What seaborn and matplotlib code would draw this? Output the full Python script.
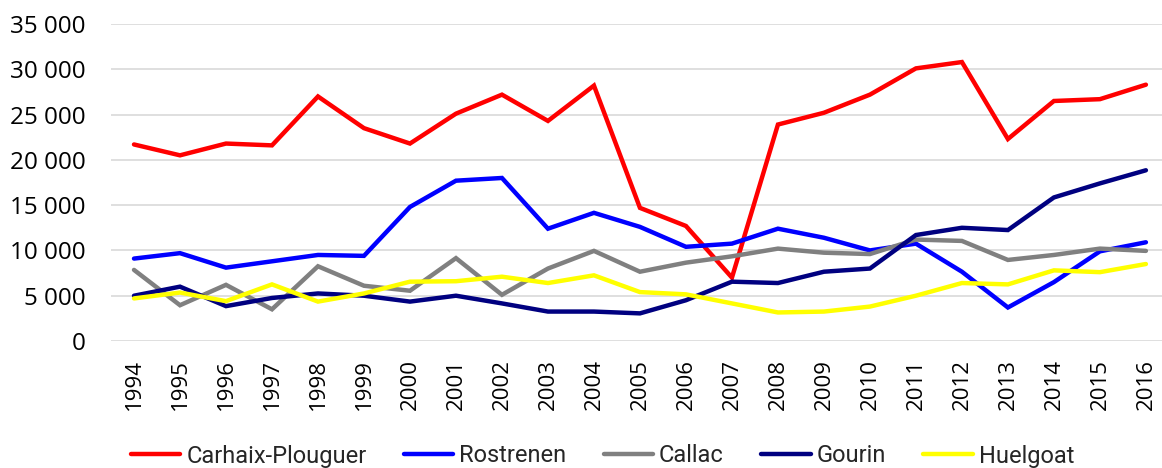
import matplotlib
matplotlib.use("Agg")
import matplotlib.pyplot as plt
import matplotlib.ticker as mticker
from matplotlib import font_manager
import seaborn as sns
import pandas as pd

years = list(range(1994, 2017))

carhaix = [21700, 20500, 21800, 21600, 27000, 23500, 21800, 25100, 27200, 24300, 28200, 14700,
           12700, 7000, 23900, 25200, 27200, 30100, 30800, 22300, 26500, 26700, 28300]
rostrenen = [9100, 9700, 8100, 8800, 9500, 9400, 14800, 17700, 18000, 12400, 14150, 12600,
             10400, 10750, 12400, 11400, 10000, 10750, 7650, 3700, 6500, 9900, 10900]
callac = [7850, 3950, 6200, 3500, 8250, 6100, 5550, 9150, 5100, 8000, 9950, 7650,
          8650, 9350, 10200, 9750, 9600, 11200, 11050, 8950, 9500, 10200, 9950]
gourin = [5000, 6000, 3850, 4750, 5250, 5000, 4350, 5000, 4150, 3250, 3250, 3050,
          4500, 6550, 6400, 7650, 8000, 11700, 12500, 12250, 15850, 17400, 18850]
huelgoat = [4700, 5350, 4400, 6250, 4350, 5250, 6550, 6600, 7100, 6400, 7250, 5400,
            5150, 4150, 3150, 3250, 3800, 5000, 6400, 6250, 7800, 7600, 8500]

towns = ["Carhaix-Plouguer", "Rostrenen", "Callac", "Gourin", "Huelgoat"]
colors = ["#FF0000", "#0000FF", "#808080", "#000080", "#FFFF00"]

series = dict(zip(towns, [carhaix, rostrenen, callac, gourin, huelgoat]))
rows = []
for town, vals in series.items():
    for i, v in enumerate(vals):
        rows.append({"pos": i, "year": years[i], "town": town, "value": v})
df = pd.DataFrame(rows)

sns.set_style("white")
installed = {f.name for f in font_manager.fontManager.ttflist}
tick_font = "Open Sans" if "Open Sans" in installed else "DejaVu Sans"
leg_font = "Roboto" if "Roboto" in installed else "DejaVu Sans"
plt.rcParams["font.family"] = [tick_font, "DejaVu Sans"]

fig = plt.figure(figsize=(11.62, 4.68), dpi=100)
ax = fig.add_axes([111 / 1162, 127 / 468, 1051 / 1162, 317 / 468])

sns.lineplot(data=df, x="pos", y="value", hue="town", palette=colors,
             hue_order=towns, linewidth=3.2, ax=ax, legend=True)
for line in ax.lines:
    line.set_solid_capstyle("round")
    line.set_solid_joinstyle("miter")

ax.set_xlim(-0.5, 22.35)
ax.set_ylim(0, 35000)
ax.set_yticks(range(0, 35001, 5000))
ax.yaxis.set_major_formatter(mticker.FuncFormatter(lambda v, p: f"{int(v):,}".replace(",", " ")))
ax.set_xticks(range(len(years)))
ax.set_xticklabels([str(y) for y in years], rotation=90)
ax.grid(axis="y", color="#D9D9D9", linewidth=1.2)
ax.set_axisbelow(True)
for s in ax.spines.values():
    s.set_visible(False)
ax.tick_params(axis="both", length=0, colors="black")
ax.tick_params(axis="y", pad=18, labelsize=17.5)
ax.tick_params(axis="x", pad=13, labelsize=16)
ax.set_xlabel("")
ax.set_ylabel("")

handles, labels = ax.get_legend_handles_labels()
ax.get_legend().remove()
fig.legend(handles, labels, loc="center", bbox_to_anchor=(0.5185, 1 - 456 / 468), ncol=5,
           frameon=False, handlelength=2.1, handletextpad=0.25, columnspacing=1.58,
           prop={"family": leg_font, "size": 17})

fig.savefig("out.png", dpi=100)
